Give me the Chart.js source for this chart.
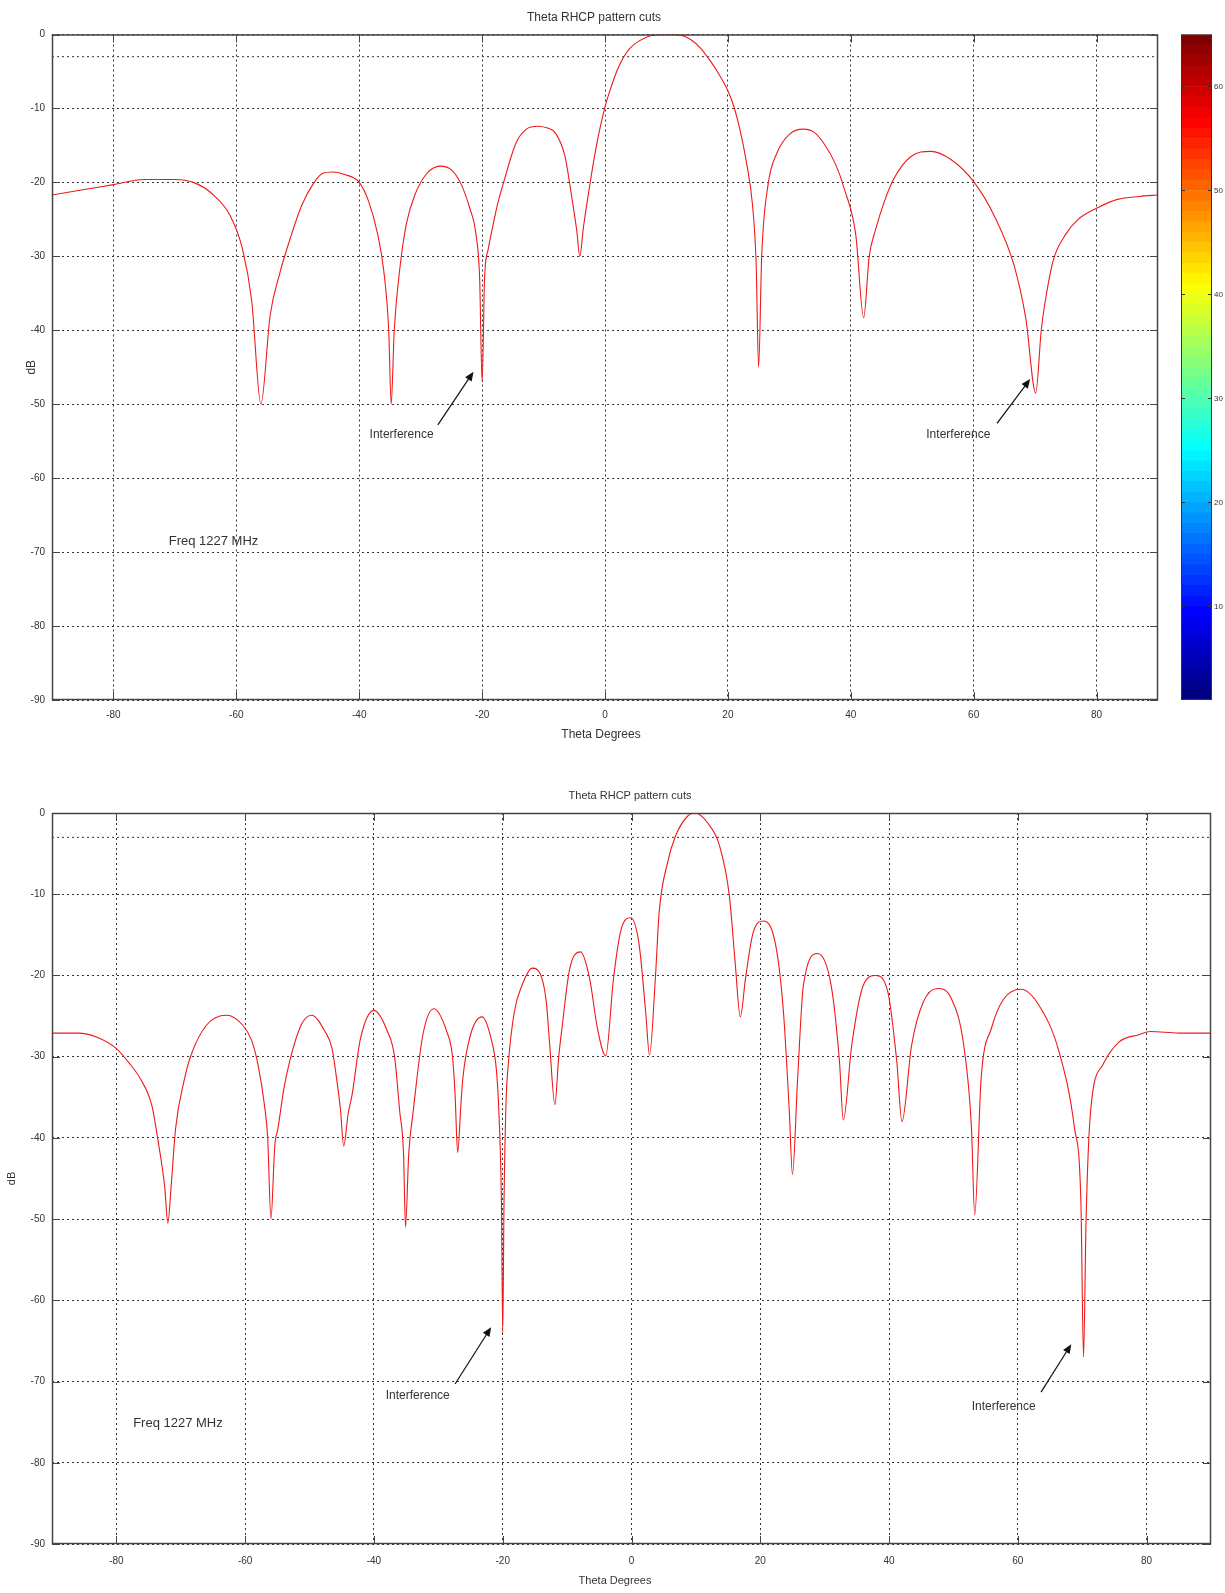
<!DOCTYPE html>
<html lang="en">
<head>
<meta charset="UTF-8" />
<title>Theta RHCP pattern cuts</title>
<script src="https://cdn.jsdelivr.net/npm/chart.js"></script>
<style>
  body { margin: 0; background: #fff; width: 1225px; height: 1593px; position: relative; overflow: hidden; }
  canvas { position: absolute; }
</style>
</head>
<body>
<canvas id="topChart" width="1170" height="760" style="left:0;top:0"></canvas>
<canvas id="colorBar" width="55" height="760" style="left:1170px;top:0"></canvas>
<canvas id="bottomChart" width="1225" height="823" style="left:0;top:770px"></canvas>

<script>
// --- data ---
const xTicks = [-80, -60, -40, -20, 0, 20, 40, 60, 80];
const yTicks = [0, -10, -20, -30, -40, -50, -60, -70, -80, -90];
const halfPowerLevel = -3;

// upper plot
const topTheta = [-90, -85, -80, -75, -70, -67, -64, -61, -59, -57.5, -56, -54.5, -53, -51, -49.4, -47.5, -46, -44.3, -42.5, -40,
  -38.5, -37, -36, -35.2, -34.8, -34.3, -33.3, -32.3, -31, -29, -26.8, -25, -23.5, -22, -21, -20.4, -20, -19.6, -19, -18.4,
  -17.5, -16.5, -14.5, -12.8, -11, -9.5, -8, -6.5, -5.5, -4.6, -4.1, -3.5, -2.5, -1.5, 0, 1, 2, 3, 4, 5.5, 7.8, 10,
  12.3, 14, 15.5, 17, 18.5, 20, 21, 22, 23, 24, 24.6, 25, 25.5, 26.5, 28, 30, 32.3, 34, 35.6, 37.5, 39, 40.8, 42.1,
  43, 44, 45.5, 47, 49.8, 53, 56.3, 60, 63.4, 66.6, 68.5, 70.1, 71, 71.7, 73, 75, 77, 80, 83.4, 87, 90];
const topGain = [-21.7, -21.0, -20.3, -19.6, -19.6, -20.0, -21.5, -24.5, -29, -36, -50, -38, -32.5, -27, -23.2, -20.2, -18.8, -18.6, -18.9, -20.0,
  -22.5, -27, -32, -40, -50, -40, -31, -25.5, -21.8, -18.8, -17.8, -18.3, -20.1, -23.5, -27, -33, -47, -33, -29, -26.5,
  -23, -20, -14.7, -12.8, -12.4, -12.6, -13.4, -16.5, -21.5, -26.5, -30, -26, -20.5, -15.5, -9.8, -7.1, -4.8, -3.1, -1.9, -0.9, -0.1, 0,
  -0.1, -0.7, -1.8, -3.4, -5.3, -7.6, -9.8, -13.0, -17.2, -23, -31, -45, -30, -20.5, -16, -13.5, -12.8, -13.2, -14.7, -17.5, -21, -27, -38.3,
  -30, -26.5, -22.5, -19.5, -16.5, -15.8, -16.9, -19.9, -24.6, -31.3, -38.5, -48.5, -40, -35.8, -30.4, -27, -25, -23.5, -22.3, -21.9, -21.7];

// lower plot
const botTheta = [-90, -86, -83, -80, -78, -76.3, -74.5, -73.5, -72.5, -72, -71.5, -70.8, -69.5, -68.4, -66, -62.9, -60.4, -59, -58, -57,
  -56.5, -56, -55.4, -54.9, -54, -53.1, -51.3, -49.7, -47.6, -46.5, -45.8, -45.2, -44.7, -44, -43.4, -42.1, -40, -37.9, -36.8, -36,
  -35.4, -35.1, -34.6, -33.9, -32.4, -30.7, -28.7, -27.8, -27.4, -27, -26.5, -26.2, -25, -23.2, -21.8, -21, -20.6, -20.2, -20, -19.8,
  -19.5, -19.1, -18.2, -17, -15.4, -13.9, -13.2, -12.7, -11.9, -11.3, -10.8, -9.6, -7.9, -6.5, -5.3, -4, -2.8, -1.6, -0.1, 1.2,
  2.2, 2.8, 3.7, 4.3, 5.6, 6.8, 8.7, 9.9, 11.8, 13.7, 15.2, 16.1, 16.9, 17.7, 18.9, 20.5, 22.4, 23.6, 24.5, 25,
  25.8, 26.7, 28.9, 31, 32.3, 32.9, 34.2, 36, 37.9, 39.8, 41.2, 42, 43.5, 45.3, 47.5, 49.7, 51.6, 52.8, 53.3, 54.3,
  55.9, 57.8, 60.5, 63.3, 66.4, 68.8, 69.8, 70.2, 70.6, 71.3, 73.2, 75.7, 78.8, 80.6, 85, 90];
const botGain = [-27.1, -27.1, -27.6, -29, -30.8, -32.7, -36, -40.5, -46, -50.5, -46, -38.8, -33, -29.8, -26.1, -24.9, -26.1, -28, -31, -36,
  -40, -50, -41, -38.8, -34, -30.6, -26.1, -24.9, -26.9, -29, -32.7, -36.5, -41, -37, -34.7, -27.8, -24.3, -26.9, -30, -36.7,
  -42, -51, -42, -36.7, -27.3, -24.1, -26.9, -30, -34.7, -41.8, -36, -32.7, -27.3, -25.1, -27.8, -31.5, -36.7, -48, -64, -48,
  -36, -30.6, -24.5, -21.2, -19.1, -20.4, -23.5, -28.6, -35.9, -30, -26.5, -19.2, -17.1, -20.4, -26.5, -29.9, -20.4, -14.3, -12.9, -16.3,
  -24.5, -29.8, -20.4, -12.2, -6.1, -2.9, -0.4, 0, -1.2, -4.1, -10.2, -18.4, -25.1, -20.4, -14.7, -13.3, -16.3, -24.5, -36.6, -44.5,
  -32.7, -21.2, -17.3, -21.2, -30.6, -37.8, -28.6, -21.2, -20.0, -22.0, -30.6, -38.0, -28.6, -23.3, -21.6, -22.9, -28.6, -38.8, -49.5, -32.7,
  -26.5, -22.9, -21.7, -23.7, -29.4, -38.8, -48, -67, -50, -36.7, -31, -28.2, -27.3, -26.9, -27.1, -27.1];

// text notes, anchored in data units: [label, textX, textY, arrowFromX, arrowFromY, arrowToX, arrowToY]
const topNotes = [
  ['Interference', -33.1, -54.1, -27.2, -52.8, -21.4, -45.6],
  ['Interference', 57.5, -54.1, 63.8, -52.6, 69.2, -46.6]
];
const botNotes = [
  ['Interference', -33.2, -71.8, -27.4, -70.3, -21.8, -63.3],
  ['Interference', 57.8, -73.1, 63.6, -71.3, 68.3, -65.4]
];
const freqLabel = 'Freq 1227 MHz';
const topFreqPos = [-71, -68.5];
const botFreqPos = [-77.4, -75.2];

// colour bar
const barTicks = [10, 20, 30, 40, 50, 60];
const barMin = 1, barMax = 65;

const FONT = 'Liberation Sans, Arial, sans-serif';
const TEXT = '#333';

function toPoints(xs, ys) { return xs.map((x, i) => ({ x: x, y: ys[i] })); }

function drawArrow(ctx, x1, y1, x2, y2) {
  const ang = Math.atan2(y2 - y1, x2 - x1), h = 10;
  ctx.beginPath();
  ctx.moveTo(x1, y1);
  ctx.lineTo(x2 - Math.cos(ang) * 6, y2 - Math.sin(ang) * 6);
  ctx.stroke();
  ctx.beginPath();
  ctx.moveTo(x2, y2);
  ctx.lineTo(x2 - h * Math.cos(ang - 0.4), y2 - h * Math.sin(ang - 0.4));
  ctx.lineTo(x2 - h * Math.cos(ang + 0.4), y2 - h * Math.sin(ang + 0.4));
  ctx.closePath();
  ctx.fill();
}

// box, inward ticks, titles and notes
const decor = {
  id: 'decor',
  afterDraw(chart, args, o) {
    const ctx = chart.ctx, a = chart.chartArea;
    const xs = chart.scales.x, ys = chart.scales.y;
    ctx.save();
    ctx.strokeStyle = '#444';
    ctx.lineWidth = 1;
    ctx.setLineDash([]);
    ctx.beginPath();
    xs.ticks.forEach(t => {
      const px = Math.round(xs.getPixelForValue(t.value)) + 0.5;
      ctx.moveTo(px, a.bottom); ctx.lineTo(px, a.bottom - 8);
      ctx.moveTo(px, a.top); ctx.lineTo(px, a.top + 8);
    });
    ys.ticks.forEach(t => {
      const py = Math.round(ys.getPixelForValue(t.value)) + 0.5;
      ctx.moveTo(a.left, py); ctx.lineTo(a.left + 8, py);
      ctx.moveTo(a.right, py); ctx.lineTo(a.right - 8, py);
    });
    ctx.stroke();
    ctx.lineWidth = 1.5;
    ctx.strokeRect(a.left + 0.5, a.top + 0.5, a.right - a.left - 1, a.bottom - a.top - 1);

    ctx.fillStyle = TEXT;
    ctx.textAlign = 'center';
    ctx.textBaseline = 'middle';
    ctx.font = o.titleSize + 'px ' + FONT;
    ctx.fillText('Theta RHCP pattern cuts', o.titleX, a.top - 17);
    ctx.font = o.axisSize + 'px ' + FONT;
    ctx.fillText('Theta Degrees', o.xTitleX, a.bottom + o.xTitleGap);
    ctx.save();
    ctx.translate(a.left - o.yTitleGap, (a.top + a.bottom) / 2);
    ctx.rotate(-Math.PI / 2);
    ctx.fillText('dB', 0, 0);
    ctx.restore();

    ctx.font = '12px ' + FONT;
    ctx.strokeStyle = '#111';
    ctx.lineWidth = 1.2;
    o.notes.forEach(n => {
      ctx.fillStyle = TEXT;
      ctx.fillText(n[0], xs.getPixelForValue(n[1]), ys.getPixelForValue(n[2]));
      ctx.fillStyle = '#111';
      drawArrow(ctx, xs.getPixelForValue(n[3]), ys.getPixelForValue(n[4]),
        xs.getPixelForValue(n[5]), ys.getPixelForValue(n[6]));
    });
    ctx.fillStyle = TEXT;
    ctx.textAlign = 'left';
    ctx.font = '13px ' + FONT;
    ctx.fillText(freqLabel, xs.getPixelForValue(o.freq[0]), ys.getPixelForValue(o.freq[1]));
    ctx.restore();
  }
};

function patternChart(id, theta, gain, opts) {
  return new Chart(document.getElementById(id), {
    type: 'line',
    data: {
      datasets: [
        {
          data: toPoints(theta, gain),
          borderColor: '#f01818',
          borderWidth: 1.1,
          pointRadius: 0,
          cubicInterpolationMode: 'monotone',
          fill: false
        },
        {
          data: [{ x: -90, y: halfPowerLevel }, { x: 90, y: halfPowerLevel }],
          borderColor: '#333',
          borderWidth: 1,
          borderDash: [2, 3],
          pointRadius: 0,
          fill: false
        }
      ]
    },
    options: {
      responsive: false,
      animation: false,
      devicePixelRatio: 1,
      layout: { padding: { left: 0, right: opts.padRight, top: opts.padTop, bottom: 0 } },
      plugins: { legend: { display: false }, tooltip: { enabled: false }, decor: opts.decor },
      scales: {
        x: {
          type: 'linear', min: -90, max: 90,
          afterBuildTicks: s => { s.ticks = xTicks.map(v => ({ value: v })); },
          afterFit: s => { s.height = opts.xHeight; },
          grid: { color: '#333', lineWidth: 1, drawTicks: false },
          border: { display: false, dash: [2, 3] },
          ticks: { color: TEXT, font: { family: FONT, size: 10 }, padding: opts.xPad, maxRotation: 0 }
        },
        y: {
          type: 'linear', min: -90, max: 0,
          afterBuildTicks: s => { s.ticks = yTicks.map(v => ({ value: v })); },
          afterFit: s => { s.width = 52; },
          grid: { color: '#333', lineWidth: 1, drawTicks: false },
          border: { display: false, dash: [2, 3] },
          ticks: { color: TEXT, font: { family: FONT, size: 10 }, padding: 7 }
        }
      }
    },
    plugins: [decor]
  });
}

patternChart('topChart', topTheta, topGain, {
  padRight: 12, padTop: 34.5, xHeight: 60, xPad: 9,
  decor: { titleSize: 12, titleX: 594, axisSize: 12, xTitleX: 601, xTitleGap: 35, yTitleGap: 20, notes: topNotes, freq: topFreqPos }
});

patternChart('bottomChart', botTheta, botGain, {
  padRight: 14, padTop: 43, xHeight: 49, xPad: 11,
  decor: { titleSize: 11, titleX: 630, axisSize: 11, xTitleX: 615, xTitleGap: 37, yTitleGap: 40, notes: botNotes, freq: botFreqPos }
});

// colour bar: 64 jet bands stacked from barMin to barMax
function jet(t) {
  const c = v => Math.round(255 * Math.max(0, Math.min(1, v)));
  return 'rgb(' + c(1.5 - Math.abs(4 * t - 3)) + ',' + c(1.5 - Math.abs(4 * t - 2)) + ',' + c(1.5 - Math.abs(4 * t - 1)) + ')';
}
const bandCount = barMax - barMin;
const bands = [];
for (let k = 0; k < bandCount; k++) {
  bands.push({
    data: [[barMin + k, barMin + k + 1]],
    backgroundColor: jet(k / (bandCount - 1)),
    borderWidth: 0,
    categoryPercentage: 1,
    barPercentage: 1
  });
}

const barFrame = {
  id: 'barFrame',
  afterDraw(chart) {
    const ctx = chart.ctx, a = chart.chartArea, ys = chart.scales.y;
    ctx.save();
    ctx.strokeStyle = '#333';
    ctx.lineWidth = 1;
    ctx.beginPath();
    barTicks.forEach(v => {
      const py = Math.round(ys.getPixelForValue(v)) + 0.5;
      ctx.moveTo(a.left, py); ctx.lineTo(a.left + 4, py);
      ctx.moveTo(a.right, py); ctx.lineTo(a.right - 4, py);
    });
    ctx.stroke();
    ctx.strokeRect(a.left + 0.5, a.top + 0.5, a.right - a.left - 1, a.bottom - a.top - 1);
    ctx.restore();
  }
};

new Chart(document.getElementById('colorBar'), {
  type: 'bar',
  data: { labels: [''], datasets: bands },
  options: {
    responsive: false,
    animation: false,
    devicePixelRatio: 1,
    layout: { padding: { left: 11, right: 0, top: 34.5, bottom: 60 } },
    plugins: { legend: { display: false }, tooltip: { enabled: false } },
    scales: {
      x: { stacked: true, display: false },
      y: {
        position: 'right', min: barMin, max: barMax, stacked: false,
        afterBuildTicks: s => { s.ticks = barTicks.map(v => ({ value: v })); },
        afterFit: s => { s.width = 13; },
        grid: { display: false, drawTicks: false },
        border: { display: false },
        ticks: { color: TEXT, font: { family: FONT, size: 8 }, padding: 2 }
      }
    }
  },
  plugins: [barFrame]
});
</script>
</body>
</html>
